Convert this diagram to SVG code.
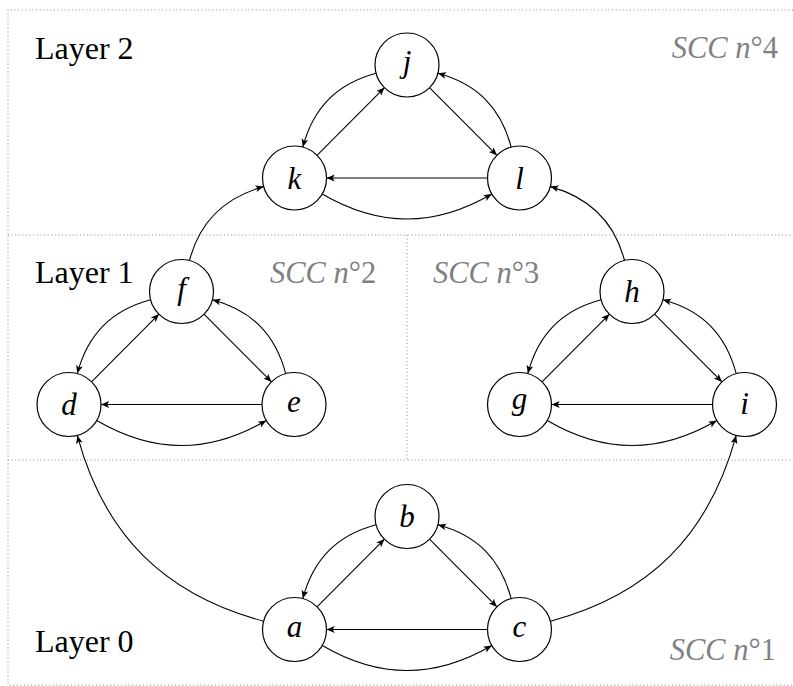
<svg xmlns="http://www.w3.org/2000/svg" width="793" height="686" viewBox="0 0 793 686">
<defs>
<style>
.frame{fill:none;stroke:#8a8a8a;stroke-width:1;stroke-dasharray:1 2.6}
.edge{fill:none;stroke:#000;stroke-width:1.1;marker-end:url(#arr)}
.node circle{fill:#fff;stroke:#000;stroke-width:1.2}
.node text{font-family:"Liberation Serif","Times New Roman",serif;font-style:italic;font-size:31px;text-anchor:middle;fill:#000}
.layer{font-family:"Liberation Serif","Times New Roman",serif;font-size:32px;fill:#000}
.scc{font-family:"Liberation Serif","Times New Roman",serif;font-size:30.5px;fill:#808080}
.it{font-style:italic}
</style>
<marker id="arr" markerUnits="userSpaceOnUse" markerWidth="12" markerHeight="12" refX="9" refY="5" orient="auto" overflow="visible">
<path d="M9,5 L0.8,1.6 L2.8,5 L0.8,8.4 Z" fill="#000"/>
</marker>
</defs>
<rect width="793" height="686" fill="#fff"/>
<g id="frame">
<path class="frame" d="M793,10 L8,10 L8,685 L793,685"/>
<path class="frame" d="M8,235 L793,235 M8,460 L793,460 M407,235 L407,460"/>
</g>
<g id="labels">
<text class="layer" x="35" y="59">Layer 2</text>
<text class="layer" x="35" y="283">Layer 1</text>
<text class="layer" x="35" y="652">Layer 0</text>
<text class="scc" x="778" y="58" text-anchor="end"><tspan class="it">SCC n</tspan>°4</text>
<text class="scc" x="270" y="283"><tspan class="it">SCC n</tspan>°2</text>
<text class="scc" x="433" y="283"><tspan class="it">SCC n</tspan>°3</text>
<text class="scc" x="776" y="660" text-anchor="end"><tspan class="it">SCC n</tspan>°1</text>
</g>
<g id="connectors">
<g transform="translate(407,65)">
<path class="edge" d="M-90,90.4 L-22.5,22.6"/>
<path class="edge" d="M22.5,22.6 L90,90.4"/>
<path class="edge" d="M80.5,113 L-80.5,113"/>
<path class="edge" d="M-30.9,8.3 C-70.2,18.9 -93.7,42.6 -104.2,82.1"/>
<path class="edge" d="M104.2,82.1 C93.7,42.6 70.2,18.9 30.9,8.3"/>
<path class="edge" d="M-84.8,129 C-27.4,162.4 27.4,162.4 84.8,129"/>
</g>
<g transform="translate(181.5,291.5)">
<path class="edge" d="M-90,90.4 L-22.5,22.6"/>
<path class="edge" d="M22.5,22.6 L90,90.4"/>
<path class="edge" d="M80.5,113 L-80.5,113"/>
<path class="edge" d="M-30.9,8.3 C-70.2,18.9 -93.7,42.6 -104.2,82.1"/>
<path class="edge" d="M104.2,82.1 C93.7,42.6 70.2,18.9 30.9,8.3"/>
<path class="edge" d="M-84.8,129 C-27.4,162.4 27.4,162.4 84.8,129"/>
</g>
<g transform="translate(632,291.5)">
<path class="edge" d="M-90,90.4 L-22.5,22.6"/>
<path class="edge" d="M22.5,22.6 L90,90.4"/>
<path class="edge" d="M80.5,113 L-80.5,113"/>
<path class="edge" d="M-30.9,8.3 C-70.2,18.9 -93.7,42.6 -104.2,82.1"/>
<path class="edge" d="M104.2,82.1 C93.7,42.6 70.2,18.9 30.9,8.3"/>
<path class="edge" d="M-84.8,129 C-27.4,162.4 27.4,162.4 84.8,129"/>
</g>
<g transform="translate(407,516.5)">
<path class="edge" d="M-90,90.4 L-22.5,22.6"/>
<path class="edge" d="M22.5,22.6 L90,90.4"/>
<path class="edge" d="M80.5,113 L-80.5,113"/>
<path class="edge" d="M-30.9,8.3 C-70.2,18.9 -93.7,42.6 -104.2,82.1"/>
<path class="edge" d="M104.2,82.1 C93.7,42.6 70.2,18.9 30.9,8.3"/>
<path class="edge" d="M-84.8,129 C-27.4,162.4 27.4,162.4 84.8,129"/>
</g>
<path class="edge" d="M263.6,621.2 C164.1,594.5 104,534.9 77.3,435.4"/>
<path class="edge" d="M550.4,621.2 C649.9,594.5 709,534.9 736.2,435.4"/>
<path class="edge" d="M189.5,260.5 C199.7,220.9 224.3,197.5 263.7,186.6"/>
<path class="edge" d="M624.5,260.5 C614.3,220.9 589.7,197.5 550.3,186.6"/>
</g>
<g id="node-j" class="node"><circle cx="407" cy="65" r="32"/><text x="407" y="71.5">j</text></g>
<g id="node-k" class="node"><circle cx="294.5" cy="178" r="32"/><text x="294.5" y="188.5">k</text></g>
<g id="node-l" class="node"><circle cx="519.5" cy="178" r="32"/><text x="519.5" y="188.5">l</text></g>
<g id="node-f" class="node"><circle cx="181.5" cy="291.5" r="32"/><text x="181.5" y="298.5">f</text></g>
<g id="node-d" class="node"><circle cx="69" cy="404.5" r="32"/><text x="69" y="415">d</text></g>
<g id="node-e" class="node"><circle cx="294" cy="404.5" r="32"/><text x="294" y="411.5">e</text></g>
<g id="node-h" class="node"><circle cx="632" cy="291.5" r="32"/><text x="632" y="302">h</text></g>
<g id="node-g" class="node"><circle cx="519.5" cy="404.5" r="32"/><text x="519.5" y="409">g</text></g>
<g id="node-i" class="node"><circle cx="744.5" cy="404.5" r="32"/><text x="744.5" y="414">i</text></g>
<g id="node-b" class="node"><circle cx="407" cy="516.5" r="32"/><text x="407" y="527">b</text></g>
<g id="node-a" class="node"><circle cx="294.5" cy="629.5" r="32"/><text x="294.5" y="636.5">a</text></g>
<g id="node-c" class="node"><circle cx="519.5" cy="629.5" r="32"/><text x="519.5" y="636.5">c</text></g>
</svg>
